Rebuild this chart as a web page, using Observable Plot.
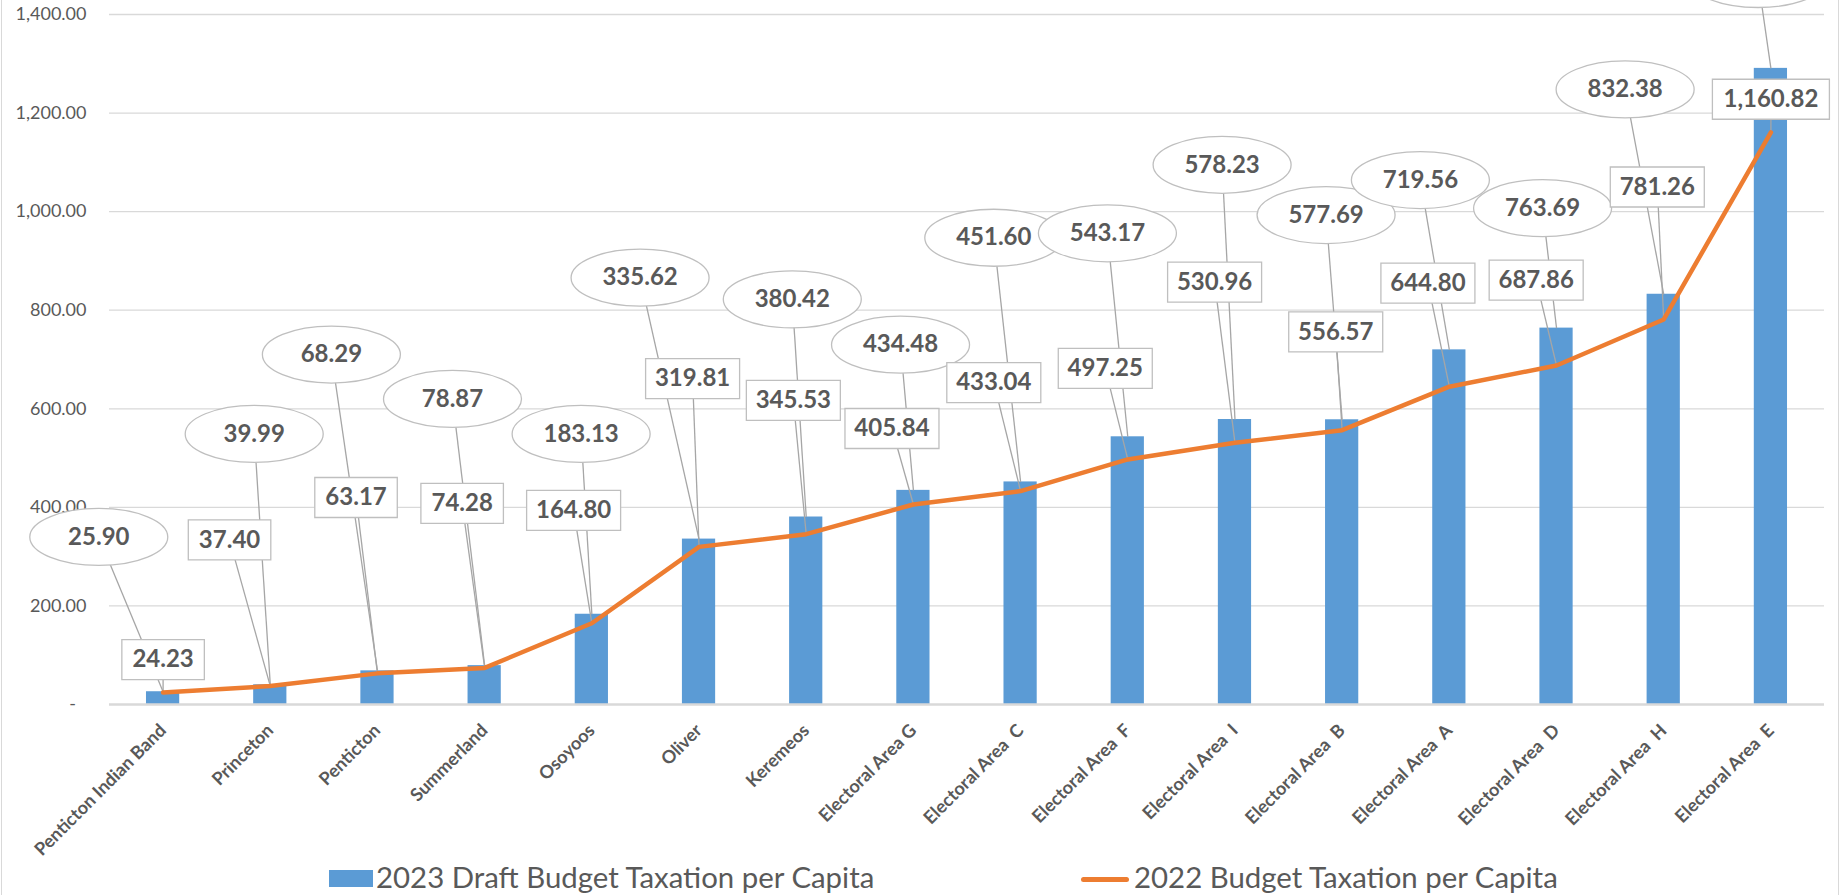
<!DOCTYPE html>
<html>
<head>
<meta charset="utf-8">
<script src="https://cdn.jsdelivr.net/npm/d3@7"></script>
<script src="https://cdn.jsdelivr.net/npm/@observablehq/plot@0.6"></script>
<style>
  html, body { margin: 0; padding: 0; background: #fff; overflow: hidden; }
  #wrap { position: relative; width: 1843px; height: 895px; font-family: Lato, sans-serif; }
  #chart svg text { white-space: pre; }
  .legend { position: absolute; left: 0; top: 860px; width: 1843px; height: 35px; }
  .sw { position: absolute; }
  .lt { position: absolute; font-size: 29.4px; line-height: 30px; color: #595959; white-space: nowrap; }
  .border { position: absolute; top: 0; width: 1px; height: 895px; background: #d9d9d9; }
</style>
</head>
<body>
<div id="wrap">
  <div id="chart"></div>
  <div class="legend">
    <div class="sw" style="left:329px;top:10px;width:44px;height:17px;background:#5B9BD5"></div>
    <div class="lt" style="left:376px;top:2px">2023 Draft Budget Taxation per Capita</div>
    <div class="sw" style="left:1081px;top:17px;width:48px;height:5px;border-radius:2.5px;background:#ED7D31"></div>
    <div class="lt" style="left:1134px;top:2px">2022 Budget Taxation per Capita</div>
  </div>
  <div class="border" style="left:1px"></div>
  <div class="border" style="left:1838px"></div>
</div>
<script>
// ---- data ----
const categories = [
  "Penticton Indian Band", "Princeton", "Penticton", "Summerland", "Osoyoos", "Oliver", "Keremeos",
  "Electoral Area G", "Electoral Area  C", "Electoral Area  F", "Electoral Area  I", "Electoral Area  B",
  "Electoral Area  A", "Electoral Area  D", "Electoral Area  H", "Electoral Area  E"
];
const taxation2023 = [25.90, 39.99, 68.29, 78.87, 183.13, 335.62, 380.42, 434.48, 451.60, 543.17, 578.23, 577.69, 719.56, 763.69, 832.38, 1290.70];
const taxation2022 = [24.23, 37.40, 63.17, 74.28, 164.80, 319.81, 345.53, 405.84, 433.04, 497.25, 530.96, 556.57, 644.80, 687.86, 781.26, 1160.82];
const yTicks = [0, 200, 400, 600, 800, 1000, 1200, 1400];

// data-label placement (x offset in category units, y in value units)
const ellipseDx = [-0.60, -0.15, -0.43, -0.30, -0.10, -0.55, -0.13, -0.12, -0.25, -0.19, -0.12, -0.15, -0.27, -0.13, -0.36, -0.12];
const ellipseY  = [340, 549, 710, 620, 549, 866, 822, 730, 947, 956, 1095, 993, 1064, 1007, 1248, 1472];
const boxDx = [0, -0.38, -0.20, -0.21, -0.17, -0.06, -0.12, -0.20, -0.25, -0.21, -0.19, -0.06, -0.20, -0.19, -0.06, 0];
const boxY  = [91, 334, 420, 408, 394, 661, 617, 560, 653, 682, 857, 756, 855, 861, 1050, 1228];

// ---- build ----
const fmt = d3.format(",.2f");
const rows = categories.map((name, i) => ({
  i, name,
  v23: taxation2023[i], v22: taxation2022[i],
  ex: i + ellipseDx[i], ey: ellipseY[i],
  bx: i + boxDx[i], by: boxY[i],
  l23: fmt(taxation2023[i]), l22: fmt(taxation2022[i])
}));
const yMax = yTicks[yTicks.length - 1];

const k = 0.5523;
const ellipseSym = {
  draw(ctx) {
    const rx = 69, ry = 28.5;
    ctx.moveTo(rx, 0);
    ctx.bezierCurveTo(rx, ry * k, rx * k, ry, 0, ry);
    ctx.bezierCurveTo(-rx * k, ry, -rx, ry * k, -rx, 0);
    ctx.bezierCurveTo(-rx, -ry * k, -rx * k, -ry, 0, -ry);
    ctx.bezierCurveTo(rx * k, -ry, rx, -ry * k, rx, 0);
    ctx.closePath();
  }
};
const rectSym = (w, h) => ({ draw(ctx) { ctx.rect(-w / 2, -h / 2, w, h); } });

const lengths = Array.from(new Set(rows.map(d => d.l22.length)));
const boxMarks = lengths.map(L => Plot.dot(rows.filter(d => d.l22.length === L), {
  x: "bx", y: "by", symbol: rectSym(11.5 * L + 25, 40),
  fill: "white", stroke: "#bfbfbf", strokeWidth: 1.3
}));

const hw = 0.155;
const labelColor = "#595959";

const chart = Plot.plot({
  width: 1843,
  height: 860,
  marginLeft: 109,
  marginRight: 19,
  marginTop: 14,
  marginBottom: 156,
  x: { type: "linear", domain: [-0.5, 15.5] },
  y: { domain: [0, yMax] },
  style: { fontFamily: "Lato, sans-serif", background: "#fff", color: labelColor, overflow: "hidden" },
  marks: [
    Plot.gridY({ ticks: yTicks.filter(t => t > 0), stroke: "#d9d9d9", strokeOpacity: 1, strokeWidth: 1.3 }),
    Plot.axisY({
      ticks: yTicks, tickSize: 0, tickPadding: 23, fontSize: 18, fill: labelColor,
      tickFormat: v => v === 0 ? "-\u2007" : fmt(v)
    }),
    Plot.axisX({
      ticks: d3.range(categories.length), tickFormat: i => categories[i],
      tickRotate: -45, tickSize: 0, tickPadding: 23, fontSize: 18, fontWeight: "bold", fill: labelColor
    }),
    Plot.rectY(rows, { x1: d => d.i - hw, x2: d => d.i + hw, y: "v23", fill: "#5B9BD5" }),
    Plot.ruleY([0], { stroke: "#d9d9d9", strokeWidth: 2.5 }),
    Plot.link(rows, { x1: "ex", y1: "ey", x2: "i", y2: "v23", stroke: "#a6a6a6", strokeWidth: 1.3 }),
    Plot.link(rows, { x1: "bx", y1: "by", x2: "i", y2: "v22", stroke: "#a6a6a6", strokeWidth: 1.3 }),
    Plot.line(rows, { x: "i", y: "v22", stroke: "#ED7D31", strokeWidth: 4.5, strokeLinejoin: "round", strokeLinecap: "round" }),
    Plot.dot(rows, { x: "ex", y: "ey", symbol: ellipseSym, fill: "white", stroke: "#bfbfbf", strokeWidth: 1.3 }),
    ...boxMarks,
    // the top-right callout lies above the chart edge, so its text is not visible (as in the original)
    Plot.text(rows.filter(d => d.ey <= yMax), { x: "ex", y: "ey", text: "l23", fontSize: 24, fontWeight: "bold", fill: labelColor }),
    Plot.text(rows, { x: "bx", y: "by", text: "l22", fontSize: 24, fontWeight: "bold", fill: labelColor })
  ]
});
document.getElementById("chart").appendChild(chart);
</script>
</body>
</html>
